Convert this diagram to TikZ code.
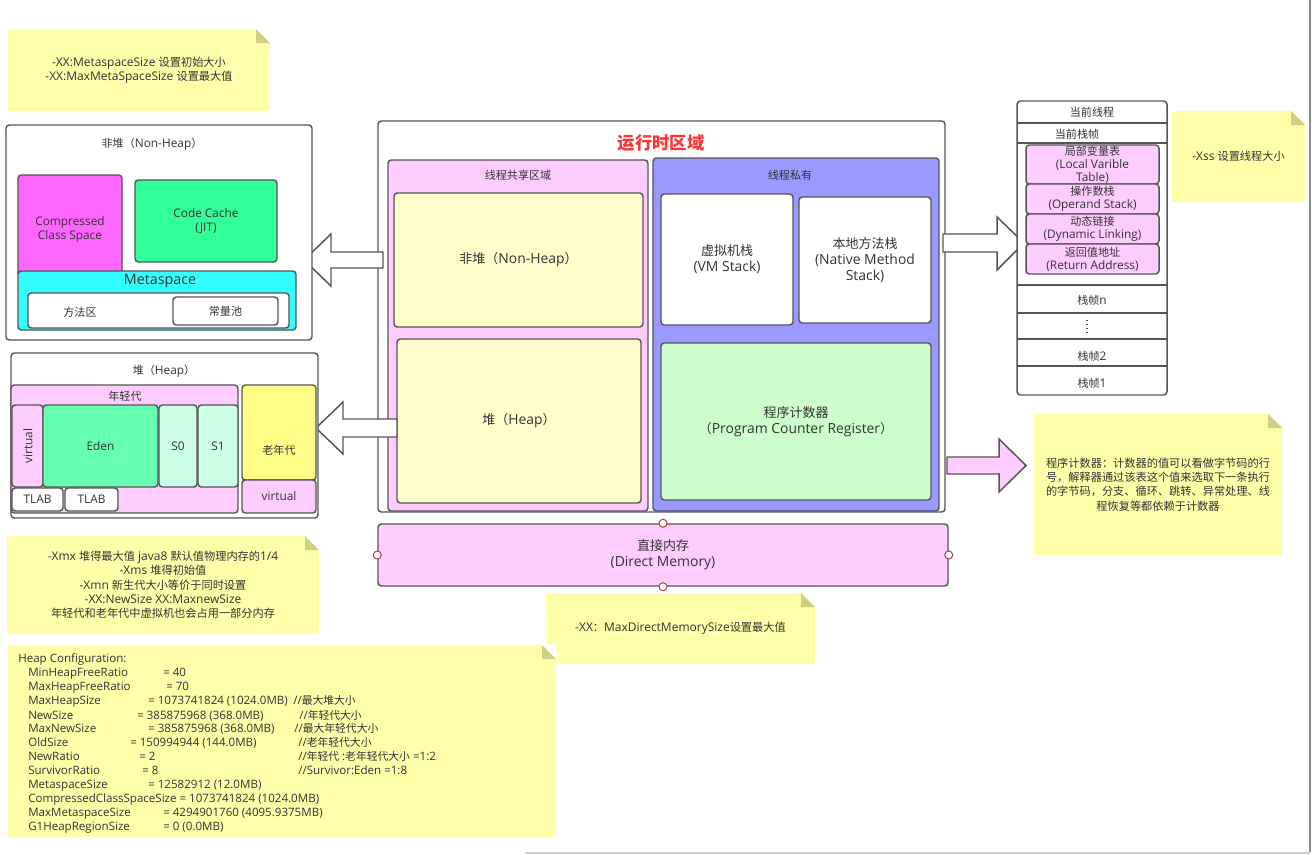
\documentclass[tikz,border=0pt]{standalone}
\usepackage{fontspec}
\setmainfont{Open Sans}[Scale=1.07]
\newfontfamily\cjkf{Noto Sans CJK SC}
\newfontfamily\latf{Open Sans}[Scale=1.07]
\newXeTeXintercharclass\CJKcls
\newcount\cjkc
\cjkc="3000 \loop \XeTeXcharclass\cjkc=\CJKcls \ifnum\cjkc<"303F \advance\cjkc 1 \repeat
\cjkc="4E00 \loop \XeTeXcharclass\cjkc=\CJKcls \ifnum\cjkc<"9FFF \advance\cjkc 1 \repeat
\cjkc="FF00 \loop \XeTeXcharclass\cjkc=\CJKcls \ifnum\cjkc<"FFEF \advance\cjkc 1 \repeat
\XeTeXinterchartoks 0 \CJKcls = {\cjkf}
\XeTeXinterchartoks 4095 \CJKcls = {\cjkf}
\XeTeXinterchartoks \CJKcls 0 = {\latf}
\XeTeXinterchartoks \CJKcls 4095 = {\latf}
\XeTeXinterchartokenstate=1
\definecolor{lc}{HTML}{555555}
\definecolor{tc}{HTML}{333333}
\definecolor{notey}{HTML}{FFFFAA}
\definecolor{foldc}{HTML}{CFCF86}
\definecolor{pinkc}{HTML}{FFCCFF}
\definecolor{magc}{HTML}{FF66FF}
\definecolor{codec}{HTML}{33FF99}
\definecolor{cyanc}{HTML}{33FFFF}
\definecolor{edenc}{HTML}{66FFB2}
\definecolor{survc}{HTML}{CCFFE5}
\definecolor{oldc}{HTML}{FFFF88}
\definecolor{lyel}{HTML}{FFFFCC}
\definecolor{bluec}{HTML}{9999FF}
\definecolor{pcgreen}{HTML}{CCFFCC}
\definecolor{redt}{HTML}{FF3333}
\definecolor{hdl}{HTML}{A33A3A}
\newcommand{\bx}[7]{%
  \pgfmathsetmacro{\myW}{(#5-#3)*0.75}%
  \pgfmathsetmacro{\myH}{(#6-#4)*0.75}%
  \node[#2,minimum width=\myW pt,minimum height=\myH pt] (#1) at ({(#3+#5)/2},{(#4+#6)/2}) {#7};%
}
\newcommand{\stickynote}[6]{%
  \bx{#1}{notebox}{#2}{#3}{#4}{#5}{#6}%
  \fill[white] ({#4-14},{#3-0.6}) -- ({#4+0.6},{#3-0.6}) -- ({#4+0.6},{#3+14}) -- cycle;%
  \fill[foldc] ({#4-14},#3) -- ({#4-14},{#3+14}) -- (#4,{#3+14}) -- cycle;%
}
\begin{document}
\begin{tikzpicture}[x=0.75pt,y=-0.75pt,
  box/.style={draw=lc,line width=1.1pt,rounded corners=2.5pt,inner sep=0pt,text=tc,align=center},
  lab/.style={inner sep=0pt,text=tc,align=center},
  fs/.style={font=\fontsize{8.3}{10.5}\selectfont},
  fst/.style={font=\fontsize{8.3}{9.9}\selectfont},
  fm/.style={font=\fontsize{9.75}{12}\selectfont},
  notebox/.style={fill=notey,inner sep=0pt,text=tc,align=center,font=\fontsize{8.4}{10.7}\selectfont},
  hc/.style={inner sep=0pt,anchor=base west,text=tc,font=\fontsize{8.1}{10}\selectfont},
  barrow/.style={draw=lc,line width=1.1pt,fill=white,line join=miter},
  divider/.style={draw=lc,line width=1.1pt},
  handle/.style={draw=hdl,fill=white,line width=0.7pt}]
\useasboundingbox (0,0) rectangle (1312,854);
% page edges
\draw[draw=black!45,line width=1.5pt] (1309.5,0) -- (1309.5,852);
\draw[draw=black!20,line width=1.5pt] (525,852.5) -- (1310,852.5);

% notes
\stickynote{nMeta}{8}{29}{270}{111}{-XX:MetaspaceSize 设置初始大小\\-XX:MaxMetaSpaceSize 设置最大值}
\stickynote{nXmx}{7}{536}{319}{634}{-Xmx 堆得最大值 java8 默认值物理内存的1/4\\-Xms 堆得初始值\\-Xmn 新生代大小等价于同时设置\\-XX:NewSize XX:MaxnewSize\\年轻代和老年代中虚拟机也会占用一部分内存}
\stickynote{nDirect}{546}{593}{815}{664}{-XX：MaxDirectMemorySize设置最大值}
\stickynote{nXss}{1172}{111}{1305}{202}{-Xss 设置线程大小}
\stickynote{nPC}{1034}{414}{1282}{555}{程序计数器：计数器的值可以看做字节码的行\\号，解释器通过该表这个值来选取下一条执行\\的字节码，分支、循环、跳转、异常处理、线\\程恢复等都依赖于计数器}
\stickynote{nHeapCfg}{8}{645}{556}{837}{}

% heap configuration text (baselines)
\node[hc] (hc0) at (18,662) {Heap Configuration:};
\node[hc] (hc1a) at (28,676) {MinHeapFreeRatio};
\node[hc] (hc1b) at (163,676) {= 40};
\node[hc] (hc2a) at (28,690) {MaxHeapFreeRatio};
\node[hc] (hc2b) at (166,690) {= 70};
\node[hc] (hc3a) at (28,704) {MaxHeapSize};
\node[hc] (hc3b) at (148,704) {= 1073741824 (1024.0MB)};
\node[hc] (hc3c) at (293,704) {//最大堆大小};
\node[hc] (hc4a) at (28,719) {NewSize};
\node[hc] (hc4b) at (137,719) {= 385875968 (368.0MB)};
\node[hc] (hc4c) at (299,719) {//年轻代大小};
\node[hc] (hc5a) at (28,732) {MaxNewSize};
\node[hc] (hc5b) at (148,732) {= 385875968 (368.0MB)};
\node[hc] (hc5c) at (294,732) {//最大年轻代大小};
\node[hc] (hc6a) at (28,746) {OldSize};
\node[hc] (hc6b) at (130,746) {= 150994944 (144.0MB)};
\node[hc] (hc6c) at (298,746) {//老年轻代大小};
\node[hc] (hc7a) at (28,760) {NewRatio};
\node[hc] (hc7b) at (139,760) {= 2};
\node[hc] (hc7c) at (298,760) {//年轻代 :老年轻代大小 =1:2};
\node[hc] (hc8a) at (28,774) {SurvivorRatio};
\node[hc] (hc8b) at (142,774) {= 8};
\node[hc] (hc8c) at (298,774) {//Survivor:Eden =1:8};
\node[hc] (hc9a) at (28,788) {MetaspaceSize};
\node[hc] (hc9b) at (148,788) {= 12582912 (12.0MB)};
\node[hc] (hc10) at (28,802) {CompressedClassSpaceSize = 1073741824 (1024.0MB)};
\node[hc] (hc11a) at (28,816) {MaxMetaspaceSize};
\node[hc] (hc11b) at (163,816) {= 4294901760 (4095.9375MB)};
\node[hc] (hc12a) at (28,830) {G1HeapRegionSize};
\node[hc] (hc12b) at (163,830) {= 0 (0.0MB)};

% runtime area
\bx{rt}{box,fill=white}{378}{121}{945}{512}{}
\node[lab,font=\fontsize{13}{15}\selectfont\bfseries,text=redt] (rtT) at (661,143) {运行时区域};
\bx{sh}{box,fill=pinkc}{388}{160}{648}{511}{}
\node[lab,fs] (shT) at (518,175) {线程共享区域};
\bx{cNH}{box,fill=lyel,fm}{394}{193}{643}{327}{非堆（Non-Heap）}
\bx{cHP}{box,fill=lyel,fm}{397}{339}{641}{503}{堆（Heap）}
\bx{pv}{box,fill=bluec}{653}{158}{939}{511}{}
\node[lab,fs] (pvT) at (790,175) {线程私有};
\bx{vm}{box,fill=white,fm}{661}{194}{793}{325}{虚拟机栈\\(VM Stack)}
\bx{ns}{box,fill=white,fm}{799}{197}{931}{323}{本地方法栈\\(Native Method\\Stack)}
\bx{pc}{box,fill=pcgreen,fm}{661}{343}{931}{500}{程序计数器\\（Program Counter Register）}

% block arrows
\filldraw[barrow] (383,252) -- (331,252) -- (331,234) -- (304,260) -- (331,286) -- (331,268) -- (383,268) -- cycle;
\filldraw[barrow] (397,419) -- (343,419) -- (343,402) -- (316,428) -- (343,454) -- (343,437) -- (397,437) -- cycle;
\filldraw[barrow] (943,234) -- (997,234) -- (997,217) -- (1024,243) -- (997,270) -- (997,252) -- (943,252) -- cycle;
\filldraw[barrow,fill=pinkc] (947,457) -- (999,457) -- (999,439) -- (1026,465.5) -- (999,492) -- (999,474) -- (947,474) -- cycle;

% non-heap
\bx{nh}{box,fill=white}{6}{125}{312}{340}{}
\node[lab,fs] (nhT) at (152,144) {非堆（Non-Heap）};
\bx{ccs}{box,fill=magc}{18}{175}{122}{276}{}
\node[lab,fs] (ccsT) at (70,229) {Compressed\\Class Space};
\bx{cc}{box,fill=codec,fs}{135}{180}{277}{262}{Code Cache\\(JIT)}
\bx{ms}{box,fill=cyanc}{18}{271}{296}{330}{}
\node[lab,font=\fontsize{10}{12}\selectfont] (msT) at (160,281) {Metaspace};
\bx{mfa}{box,fill=white}{28}{293}{289}{328}{}
\node[lab,fs] (mfaT) at (80,312) {方法区};
\bx{cpool}{box,fill=white,fs}{173}{297}{278}{325}{常量池}

% heap
\bx{hp}{box,fill=white}{11}{353}{318}{518}{}
\node[lab,fs] (hpT) at (164,371) {堆（Heap）};
\bx{yg}{box,fill=pinkc}{11}{385}{238}{513}{}
\node[lab,fs] (ygT) at (125,396) {年轻代};
\bx{yv}{box,fill=pinkc}{12}{405}{43}{487}{}
\node[lab,fs,rotate=90] (yvT) at (28,446) {virtual};
\bx{eden}{box,fill=edenc,fs}{43}{405}{158}{487}{Eden}
\bx{s0}{box,fill=survc,fs}{159}{405}{197}{487}{S0}
\bx{s1}{box,fill=survc,fs}{198}{405}{238}{487}{S1}
\bx{tl1}{box,fill=white,fs}{12}{488}{63}{511}{TLAB}
\bx{tl2}{box,fill=white,fs}{65}{488}{118}{511}{TLAB}
\bx{old}{box,fill=oldc}{242}{385}{316}{480}{}
\node[lab,fs] (oldT) at (279,450) {老年代};
\bx{ov}{box,fill=pinkc,fs}{242}{480}{316}{513}{virtual}

% thread stack
\bx{stk}{box,fill=white}{1017}{101}{1167}{395}{}
\foreach \yy in {123,143,285,313,339,366} \draw[divider] (1017,\yy) -- (1167,\yy);
\node[lab,fs] (sThr) at (1092,112) {当前线程};
\node[lab,fs] (sCur) at (1077,134) {当前栈帧};
\bx{lv}{box,fill=pinkc,fst}{1026}{145}{1159}{184}{局部变量表\\(Local Varible\\Table)}
\bx{os}{box,fill=pinkc,fst}{1026}{184}{1159}{214}{操作数栈\\(Operand Stack)}
\bx{dl}{box,fill=pinkc,fst}{1026}{214}{1159}{244}{动态链接\\(Dynamic Linking)}
\bx{ra}{box,fill=pinkc,fst}{1026}{244}{1159}{274}{返回值地址\\(Return Address)}
\node[lab,fs] (sN) at (1092,300) {栈帧n};
\draw[lc,dotted,line width=1pt] (1087,320) -- (1087,335);
\node[lab,fs] (s2) at (1092,356) {栈帧2};
\node[lab,fs] (s1f) at (1092,383) {栈帧1};

% direct memory
\bx{dm}{box,fill=pinkc,fm}{378}{524}{948}{586}{直接内存\\(Direct Memory)}
\foreach \a in {north,south,east,west} \draw[handle] (dm.\a) circle (3pt);
\end{tikzpicture}
\end{document}
